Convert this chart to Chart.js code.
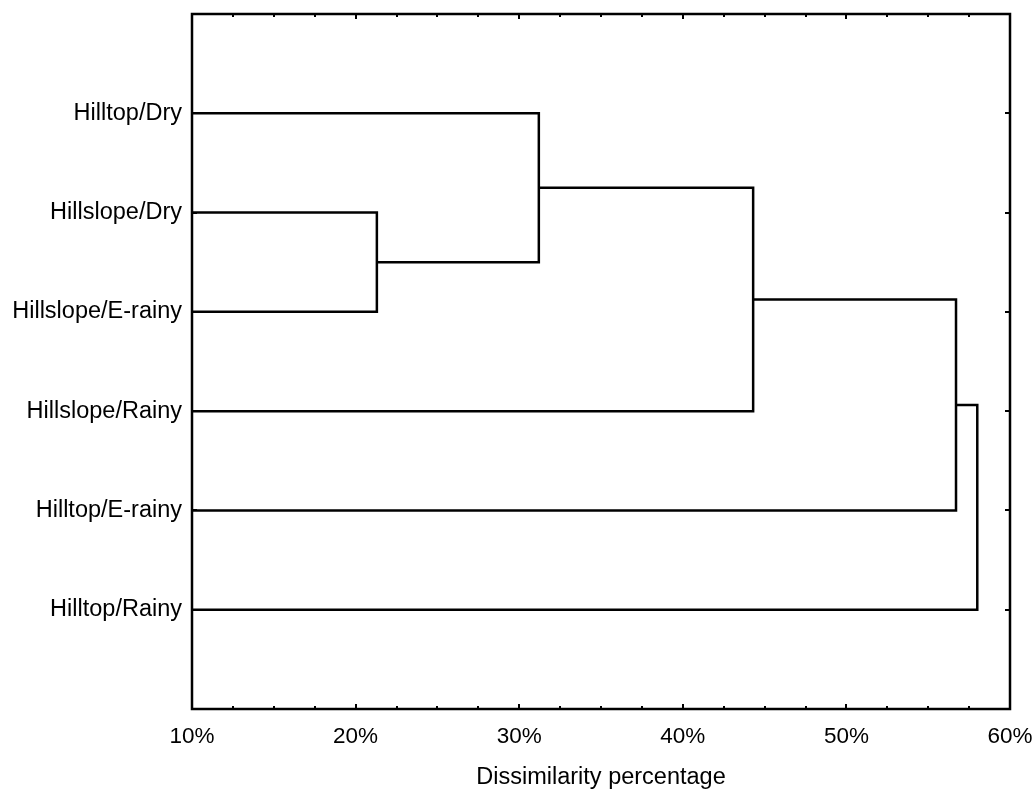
<!DOCTYPE html>
<html>
<head>
<meta charset="utf-8">
<script src="https://cdn.jsdelivr.net/npm/chart.js@4"></script>
<style>
  html, body { margin: 0; padding: 0; background: #fff; }
  #wrap { width: 1032px; height: 789px; }
</style>
</head>
<body>
<div id="wrap"><canvas id="dendro"></canvas></div>
<script>
// leaf order, top to bottom
const leaves = ['Hilltop/Dry', 'Hillslope/Dry', 'Hillslope/E-rainy', 'Hillslope/Rainy', 'Hilltop/E-rainy', 'Hilltop/Rainy'];
// linkage: cluster n+i joins mergeA[i] and mergeB[i] at mergeHeight[i] (%)
const mergeA = [1, 0, 7, 8, 9];
const mergeB = [2, 6, 3, 4, 5];
const mergeHeight = [21.3, 31.2, 44.3, 56.7, 58.0];
const xTicks = [10, 20, 30, 40, 50, 60];

// height and row position of every cluster
const nodeX = leaves.map(() => 0);
const nodeY = leaves.map((_, i) => i + 1);
mergeA.forEach((a, i) => {
  const b = mergeB[i];
  nodeX.push(mergeHeight[i]);
  nodeY.push((nodeY[a] + nodeY[b]) / 2);
});

const datasets = mergeA.map((a, i) => {
  const b = mergeB[i], h = mergeHeight[i];
  return {
    data: [
      { x: nodeX[a], y: nodeY[a] },
      { x: h, y: nodeY[a] },
      { x: h, y: nodeY[b] },
      { x: nodeX[b], y: nodeY[b] }
    ],
    borderColor: '#000',
    borderWidth: 2.5,
    pointRadius: 0,
    tension: 0,
    fill: false
  };
});

const font = { family: 'Liberation Sans, Arial, sans-serif', size: 23.5 };

// frame and inward tick marks
const frameTicks = {
  id: 'frameTicks',
  afterDatasetsDraw(chart) {
    const { ctx, chartArea: a, scales } = chart;
    ctx.save();
    ctx.strokeStyle = '#000';
    ctx.lineWidth = 2.5;
    ctx.strokeRect(a.left, a.top, a.right - a.left, a.bottom - a.top);
    ctx.beginPath();
    ctx.lineWidth = 2;
    const xs = scales.x;
    for (let v = xs.min; v <= xs.max + 0.001; v += 2.5) {
      const px = Math.round(xs.getPixelForValue(v));
      const len = (v % 10 === 0) ? 5 : 3;
      ctx.moveTo(px, a.bottom); ctx.lineTo(px, a.bottom - len);
      ctx.moveTo(px, a.top); ctx.lineTo(px, a.top + len);
    }
    const ys = scales.y;
    leaves.forEach((_, i) => {
      const py = Math.round(ys.getPixelForValue(i + 1));
      ctx.moveTo(a.left, py); ctx.lineTo(a.left + 5, py);
      ctx.moveTo(a.right, py); ctx.lineTo(a.right - 5, py);
    });
    ctx.stroke();
    ctx.restore();
  }
};

new Chart(document.getElementById('dendro'), {
  type: 'line',
  data: { datasets },
  options: {
    responsive: true,
    maintainAspectRatio: false,
    animation: false,
    events: [],
    layout: { padding: { top: 14, right: 22, left: 0, bottom: 0 } },
    plugins: { legend: { display: false }, tooltip: { enabled: false } },
    scales: {
      x: {
        type: 'linear',
        min: 10,
        max: 60,
        afterBuildTicks: s => { s.ticks = xTicks.map(v => ({ value: v })); },
        afterFit: s => { s.height = 80; s.paddingLeft = 0; s.paddingRight = 0; },
        grid: { display: false, drawTicks: false },
        border: { display: false },
        ticks: {
          color: '#000',
          padding: 14,
          maxRotation: 0,
          font: { family: 'Liberation Sans, Arial, sans-serif', size: 22.5 },
          callback: v => v + '%'
        },
        title: {
          display: true,
          text: 'Dissimilarity percentage',
          color: '#000',
          padding: { top: 15, bottom: -3 },
          font
        }
      },
      y: {
        type: 'linear',
        reverse: true,
        min: 0,
        max: 7,
        afterBuildTicks: s => { s.ticks = leaves.map((_, i) => ({ value: i + 1 })); },
        afterFit: s => { s.width = 192; s.paddingTop = 0; s.paddingBottom = 0; },
        grid: { display: false, drawTicks: false },
        border: { display: false },
        ticks: {
          color: '#000',
          padding: 10,
          font,
          callback: v => leaves[v - 1]
        }
      }
    }
  },
  plugins: [frameTicks]
});
</script>
</body>
</html>
